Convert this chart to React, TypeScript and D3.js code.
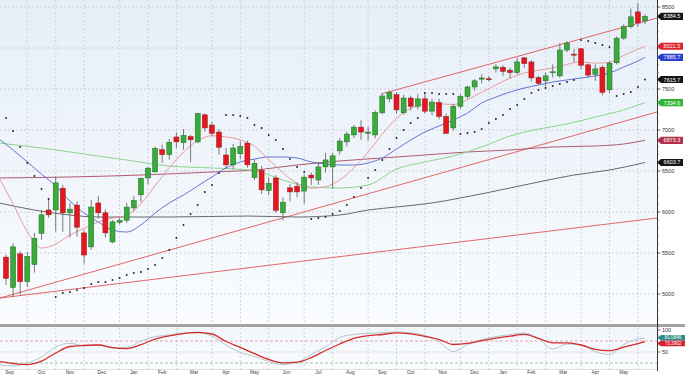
import React from "react";
import * as d3 from "d3";

// weekly candles, index 0 = first week of the chart
const opens = [5450, 5080, 5490, 5150, 5360, 5740, 6025, 6025, 6290, 5990, 6085, 5745, 5575, 6110, 5990, 5635, 5875, 5900, 6050, 6210, 6415, 6490, 6760, 6700, 6915, 6845, 6920, 6855, 7185, 7060, 6975, 6695, 6575, 6710, 6840, 6420, 6510, 6260, 6415, 5990, 6295, 6315, 6255, 6450, 6390, 6550, 6550, 6745, 6855, 6940, 7035, 6960, 6940, 7210, 7380, 7430, 7210, 7390, 7290, 7380, 7230, 7335, 7165, 7025, 7290, 7410, 7525, 7620, 7625, 7745, 7765, 7730, 7700, 7880, 7830, 7640, 7600, 7705, 7660, 7975, 7925, 7990, 7795, 7680, 7765, 7490, 7820, 8120, 8260, 8440, 8330];
const highs = [5480, 5620, 5520, 5515, 5745, 6025, 6150, 6430, 6330, 6110, 6130, 5780, 6150, 6200, 6030, 5900, 5930, 6110, 6190, 6420, 6550, 6800, 6820, 6890, 6970, 7010, 6940, 7210, 7200, 7100, 7010, 6780, 6830, 6860, 6870, 6640, 6560, 6420, 6450, 6180, 6340, 6360, 6460, 6480, 6600, 6720, 6720, 6900, 6980, 7060, 7120, 7040, 7240, 7440, 7480, 7460, 7430, 7420, 7440, 7440, 7380, 7380, 7200, 7320, 7440, 7540, 7620, 7680, 7660, 7800, 7790, 7760, 7880, 7890, 7850, 7660, 7700, 7800, 8060, 8080, 7990, 8000, 7810, 7800, 7790, 7840, 8140, 8290, 8480, 8550, 8410];
const lows = [5110, 4965, 4990, 5085, 5260, 5660, 5930, 5760, 5760, 5690, 5700, 5370, 5540, 5920, 5690, 5620, 5850, 5870, 6010, 6120, 6340, 6480, 6600, 6640, 6780, 6760, 6610, 6840, 6980, 6930, 6700, 6530, 6520, 6640, 6540, 6390, 6220, 6210, 5990, 5900, 6130, 6180, 6100, 6330, 6330, 6480, 6290, 6700, 6800, 6900, 6880, 6870, 6900, 7190, 7340, 7200, 7190, 7240, 7250, 7200, 7180, 7130, 6950, 6990, 7260, 7380, 7480, 7570, 7590, 7700, 7660, 7630, 7680, 7760, 7590, 7550, 7530, 7640, 7640, 7950, 7830, 7740, 7640, 7600, 7420, 7450, 7800, 8100, 8240, 8260, 8290];
const closes = [5190, 5575, 5150, 5460, 5680, 5965, 5965, 6355, 5990, 6035, 5815, 5475, 6060, 5990, 5745, 5880, 5900, 6060, 6140, 6410, 6535, 6775, 6700, 6850, 6855, 6935, 6880, 7200, 7025, 6960, 6790, 6575, 6780, 6800, 6575, 6595, 6270, 6350, 6020, 6120, 6245, 6245, 6425, 6415, 6550, 6635, 6685, 6865, 6950, 7035, 6975, 6975, 7215, 7415, 7460, 7245, 7390, 7290, 7380, 7230, 7340, 7165, 6960, 7290, 7410, 7525, 7600, 7635, 7615, 7770, 7715, 7700, 7830, 7810, 7635, 7570, 7660, 7710, 7975, 8060, 7915, 7790, 7670, 7745, 7460, 7815, 8120, 8260, 8380, 8305, 8384.5];

// parabolic SAR, one dot per week
const sar = [7146, 6988, 6793, 6598, 6439, 6281, 6159, 4963, 5012, 5024, 5049, 5073, 5122, 5146, 5146, 5171, 5195, 5232, 5256, 5268, 5305, 5354, 5439, 5537, 5683, 5841, 5976, 6085, 6244, 6329, 6476, 7183, 7183, 7171, 7146, 7061, 7024, 6939, 6878, 6768, 6646, 6549, 6488, 5915, 5927, 5939, 5976, 6012, 6085, 6183, 6293, 6415, 6512, 6634, 6768, 6902, 7000, 7085, 7146, 7451, 7451, 7439, 7439, 7439, 6951, 6963, 6976, 7012, 7085, 7134, 7183, 7256, 7305, 7378, 7451, 7488, 7512, 7537, 7561, 7585, 7610, 8098, 8085, 8061, 8037, 8012, 7415, 7439, 7463, 7524, 7615.7];

// sample weeks for the fast averages and the oscillator
const fastIdx = [-1, 1, 3, 5, 7, 9, 11, 13, 15, 17, 19, 21, 23, 25, 27, 29, 31, 33, 35, 37, 39, 41, 43, 45, 47, 49, 51, 53, 55, 57, 59, 61, 63, 65, 67, 69, 71, 73, 75, 77, 79, 81, 83, 85, 87, 89, 90];
const maPink = [6420, 6100, 5760, 5560, 5610, 5720, 5800, 5880, 5925, 5960, 6100, 6320, 6540, 6730, 6870, 6930, 6915, 6880, 6800, 6640, 6480, 6350, 6290, 6310, 6390, 6540, 6730, 6950, 7140, 7265, 7315, 7320, 7310, 7370, 7460, 7550, 7635, 7695, 7730, 7755, 7800, 7830, 7815, 7825, 7910, 7985, 8021.5];
const maBlue = [6890, 6756, 6610, 6463, 6317, 6134, 5988, 5878, 5780, 5756, 5842, 5988, 6110, 6207, 6317, 6427, 6537, 6610, 6646, 6671, 6671, 6659, 6610, 6585, 6573, 6573, 6598, 6659, 6768, 6878, 6976, 7049, 7122, 7207, 7329, 7402, 7463, 7512, 7549, 7585, 7610, 7634, 7659, 7695, 7768, 7841, 7885.7];
const stochK = [20.5, 18.2, 25, 38.6, 61.4, 69.8, 64.1, 65.9, 59.1, 60.2, 75, 85, 88.6, 93.2, 93.2, 86.4, 65.9, 48.9, 39.8, 28.4, 21.4, 26.1, 44.3, 61.4, 83, 89.8, 92.5, 94.1, 95.5, 93.6, 87.5, 72.7, 51.1, 67, 78.4, 84.8, 89.3, 93.2, 80.7, 56.8, 68.2, 65.9, 50.7, 44.3, 67, 79.5, 81.1];
const stochD = [28.4, 23.9, 21.4, 29.1, 47.7, 62.5, 64.8, 65.9, 59.8, 57.7, 66.6, 79.5, 86.8, 91.8, 94.5, 90.9, 73.9, 60.5, 46.1, 33, 25.5, 26.8, 37.3, 53.4, 68.2, 81.1, 87, 89.8, 93.6, 91.4, 85.5, 78.4, 67, 69.5, 75.9, 81.4, 85.9, 90, 80.9, 70.9, 70.7, 65.9, 56.1, 53.2, 61.1, 69.3, 73.4];

// slower averages
const greenIdx = [-1, 5, 11, 17, 23, 29, 35, 39, 43, 47, 51, 55, 59, 63, 67, 71, 75, 79, 83, 87, 90];
const maGreen = [6841, 6780, 6707, 6634, 6561, 6537, 6505, 6390, 6305, 6293, 6329, 6524, 6610, 6683, 6793, 6927, 7012, 7073, 7159, 7244, 7334.6];
const maroonIdx = [-1, 9, 19, 29, 35, 41, 47, 53, 59, 65, 71, 77, 83, 87, 90];
const maMaroon = [6415, 6427, 6451, 6488, 6512, 6573, 6622, 6659, 6695, 6732, 6756, 6793, 6805, 6829, 6873.3];
const grayIdx = [-1, 4, 9, 13, 23, 34, 41, 47, 51, 55, 60, 64, 71, 75, 80, 85, 90];
const maGray = [6110, 6024, 5963, 5939, 5939, 5951, 5939, 5963, 6024, 6061, 6110, 6171, 6293, 6366, 6451, 6512, 6603.7];

// trend lines: [week, price] pairs
const trendUpper = [[52.8, 7439], [91.7, 8366]];
const trendLower = [[-0.85, 4951], [91.7, 7220]];
const trendLong = [[-0.85, 4951], [91.7, 5927]];

// month grid (first week of each month) and labels
const monthWeeks = [3, 7, 11, 16, 20, 24, 29, 33, 37, 42, 46, 51, 55, 59, 64, 68, 72, 76, 81, 85, 89];
const monthLabels = ["Sep", "Oct", "Nov", "Dec", "Jan", "Feb", "Mar", "Apr", "May", "Jun", "Jul", "Aug", "Sep", "Oct", "Nov", "Dec", "Jan", "Feb", "Mar", "Apr", "May"];
const priceTicks = [5000, 5500, 6000, 6500, 7000, 7500, 8000, 8500];

const badges = [
  { v: 8384.5, c: "#151515" },
  { v: 8021.5, c: "#e0202a" },
  { v: 7885.7, c: "#2a3fd0" },
  { v: 7615.7, c: "#151515" },
  { v: 7334.6, c: "#2fb52f" },
  { v: 6873.3, c: "#b0304a" },
  { v: 6603.7, c: "#151515" },
];
const oscBadges = [
  { v: 82.5, c: "#2d8c88", t: "81.0846" },
  { v: 69.5, c: "#d42030", t: "73.3902" },
];

const FONT = "'Liberation Sans', Arial, sans-serif";

export default function App() {
  const axisX = 657;
  const x = d3.scaleLinear().domain([0, 90]).range([6, 645]);
  const y = d3.scaleLinear().domain([5000, 8500]).range([294, 7]);
  const yo = d3.scaleLinear().domain([0, 100]).range([374, 330]);

  const path = (idx: number[], vals: number[], sc: any) =>
    d3
      .line<number>()
      .x((_, k) => x(idx[k]))
      .y((v) => sc(v))
      .curve(d3.curveMonotoneX)(vals) || "";

  const trend = (pts: number[][]) =>
    d3
      .line<number[]>()
      .x((p) => x(p[0]))
      .y((p) => y(p[1]))(pts) || "";

  const minorTicks = d3.range(4500, 8600, 100);
  const bw = 5;
  // tick labels hidden behind a value badge are not drawn
  const shownTicks = priceTicks.filter((t) => !badges.some((b) => Math.abs(y(b.v) - y(t)) < 6));

  return (
    <svg
      width={685}
      height={375}
      style={{ position: "absolute", left: 0, top: 0, background: "#fff" }}
      fontFamily={FONT}
    >
      <defs>
        <linearGradient id="bg" x1="0" y1="0" x2="0" y2="1">
          <stop offset="0" stopColor="#e6eef8" />
          <stop offset="1" stopColor="#fafcfe" />
        </linearGradient>
        <linearGradient id="bg2" x1="0" y1="0" x2="0" y2="1">
          <stop offset="0" stopColor="#f2f6fb" />
          <stop offset="1" stopColor="#fbfcfe" />
        </linearGradient>
        <clipPath id="main">
          <rect x={0} y={0} width={axisX} height={323} />
        </clipPath>
        <clipPath id="osc">
          <rect x={0} y={328} width={axisX} height={42} />
        </clipPath>
      </defs>

      <rect x={0} y={0} width={axisX} height={324} fill="url(#bg)" />
      <rect x={0} y={327} width={axisX} height={43} fill="url(#bg2)" />

      {/* grid */}
      {priceTicks.map((t) => (
        <line key={t} x1={0} x2={axisX} y1={y(t)} y2={y(t)} stroke="#bfc6cf" strokeWidth={0.7} strokeDasharray="2,2" />
      ))}
      {monthWeeks.map((w) => (
        <line key={w} x1={x(w)} x2={x(w)} y1={0} y2={371} stroke="#bfc6cf" strokeWidth={0.7} strokeDasharray="2,2" />
      ))}

      <g clipPath="url(#main)" fill="none">
        <path d={trend(trendLong)} stroke="#e25555" strokeWidth={0.9} />
        <path d={trend(trendLower)} stroke="#e25555" strokeWidth={0.9} />
        <path d={trend(trendUpper)} stroke="#e25555" strokeWidth={0.9} />
        <path d={path(grayIdx, maGray, y)} stroke="#555a60" strokeWidth={0.9} />
        <path d={path(maroonIdx, maMaroon, y)} stroke="#a8485e" strokeWidth={0.9} />
        <path d={path(greenIdx, maGreen, y)} stroke="#7fd07f" strokeWidth={0.9} />
        <path d={path(fastIdx, maBlue, y)} stroke="#5566cc" strokeWidth={0.9} />
        <path d={path(fastIdx, maPink, y)} stroke="#e79090" strokeWidth={0.9} />

        {closes.map((c, i) => {
          const o = opens[i];
          const up = c >= o;
          const top = y(Math.max(o, c));
          const h = Math.max(1, Math.abs(y(o) - y(c)));
          return (
            <g key={i}>
              <line x1={x(i)} x2={x(i)} y1={y(highs[i])} y2={y(lows[i])} stroke="#5a5a5a" strokeWidth={0.8} />
              <rect
                x={x(i) - bw / 2}
                y={top}
                width={bw}
                height={h}
                fill={up ? "#3aab3a" : "#e5161e"}
                stroke={up ? "#1f6a22" : "#8e1a1a"}
                strokeWidth={0.5}
              />
            </g>
          );
        })}

        {sar.map((s, i) => (
          <circle key={i} cx={x(i)} cy={y(s)} r={0.95} fill="#222" stroke="none" />
        ))}
      </g>

      {/* oscillator */}
      <rect x={0} y={324} width={axisX + 28} height={3} fill="#a3a3a3" />
      <line x1={0} x2={axisX} y1={yo(75)} y2={yo(75)} stroke="#e39090" strokeWidth={0.8} strokeDasharray="3,2" />
      <line x1={0} x2={axisX} y1={yo(50)} y2={yo(50)} stroke="#b8bec6" strokeWidth={0.7} strokeDasharray="1.5,1.5" />
      <line x1={0} x2={axisX} y1={yo(25)} y2={yo(25)} stroke="#8fb08f" strokeWidth={0.8} strokeDasharray="3,2" />
      <g clipPath="url(#osc)" fill="none">
        <path d={path(fastIdx, stochK, yo)} stroke="#a9c2cc" strokeWidth={0.9} />
        <path d={path(fastIdx, stochD, yo)} stroke="#d42a2a" strokeWidth={1.3} />
      </g>
      <line x1={0} x2={axisX} y1={369.5} y2={369.5} stroke="#c8c8c8" strokeWidth={0.6} />

      {monthLabels.map((m, k) => {
        const a = k === 0 ? -2 : monthWeeks[k - 1];
        const b = monthWeeks[k] ?? 91;
        const cx = k === 0 ? x(0.5) : x((a + b) / 2);
        return (
          <text key={k} x={cx} y={373.6} fontSize={4.8} fill="#444" textAnchor="middle">
            {m}
          </text>
        );
      })}

      {/* right axis */}
      <rect x={axisX} y={0} width={28} height={375} fill="#fff" />
      <rect x={axisX} y={324} width={28} height={3} fill="#a3a3a3" />
      <line x1={axisX + 0.5} x2={axisX + 0.5} y1={0} y2={371} stroke="#333" strokeWidth={1} />
      {minorTicks.map((t) => (
        <line key={t} x1={axisX} x2={axisX + 2} y1={y(t)} y2={y(t)} stroke="#555" strokeWidth={0.5} />
      ))}
      {priceTicks.map((t) => (
        <line key={t} x1={axisX} x2={axisX + 3.5} y1={y(t)} y2={y(t)} stroke="#333" strokeWidth={0.7} />
      ))}
      {shownTicks.map((t) => (
        <text key={t} x={axisX + 5} y={y(t) + 2} fontSize={5.5} fill="#333">
          {t}
        </text>
      ))}
      {[100, 50].map((t) => (
        <g key={t}>
          <line x1={axisX} x2={axisX + 3.5} y1={yo(t)} y2={yo(t)} stroke="#333" strokeWidth={0.7} />
          <text x={axisX + 5} y={yo(t) + 2} fontSize={5.5} fill="#333">
            {t}
          </text>
        </g>
      ))}

      {badges.map((b) => {
        const by = y(b.v);
        return (
          <g key={b.v}>
            <path
              d={`M${axisX},${by} L${axisX + 4},${by - 3.6} L${axisX + 26},${by - 3.6} L${axisX + 26},${by + 3.6} L${axisX + 4},${by + 3.6} Z`}
              fill={b.c}
            />
            <text x={axisX + 15} y={by + 2} fontSize={5.5} fill="#fff" textAnchor="middle">
              {b.v.toFixed(1)}
            </text>
          </g>
        );
      })}
      {oscBadges.map((b) => {
        const by = yo(b.v);
        return (
          <g key={b.t}>
            <path
              d={`M${axisX},${by} L${axisX + 4},${by - 2.8} L${axisX + 28},${by - 2.8} L${axisX + 28},${by + 2.8} L${axisX + 4},${by + 2.8} Z`}
              fill={b.c}
            />
            <text x={axisX + 16} y={by + 1.7} fontSize={4.6} fill="#fff" textAnchor="middle">
              {b.t}
            </text>
          </g>
        );
      })}
    </svg>
  );
}
